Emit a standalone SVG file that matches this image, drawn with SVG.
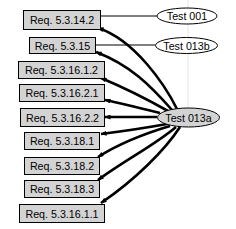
<svg xmlns="http://www.w3.org/2000/svg" width="236" height="229" viewBox="0 0 236 229">
<style>
.box{fill:#d3d3d3;stroke:#000;stroke-width:1}
.ell{stroke:#000;stroke-width:1}
.t{font-family:"Liberation Sans",Arial,sans-serif;font-size:10.7px;fill:#000;text-anchor:middle;dominant-baseline:central}
.thin{stroke:#000;stroke-width:1;fill:none}
.thick{stroke:#000;stroke-width:2.6;fill:none;marker-end:url(#ah)}
</style>
<defs>
<marker id="ah" markerUnits="userSpaceOnUse" markerWidth="6" markerHeight="5" refX="5.5" refY="2.5" orient="auto">
<path d="M0,0 L6,2.5 L0,5 z" fill="#000"/>
</marker>
</defs>
<g id="connectors">
<line x1="188" y1="0" x2="188" y2="108" stroke="#c8c8c8" stroke-width="0.5"/>
<path class="thin" d="M100,16 L157,16"/>
<path class="thin" d="M95,45 L155,45"/>
<path class="thick" d="M177,109 C165,85 135,40 98,28"/>
<path class="thick" d="M172,110 C150,85 130,65 96,52"/>
<path class="thick" d="M168,111 C145,98 125,88 101,78"/>
<path class="thick" d="M160,113 C140,108 120,103 105,100"/>
<path class="thick" d="M157,117 L105,117"/>
<path class="thick" d="M167,124 C145,128 125,131 101,134"/>
<path class="thick" d="M170,126 C150,132 120,143 98,157"/>
<path class="thick" d="M176,127 C155,145 125,160 98,180"/>
<path class="thick" d="M180,127 C165,150 135,180 101,203"/>
</g>
<g id="test001"><ellipse class="ell" cx="187" cy="16" rx="30" ry="8" fill="#fff"/><text class="t" x="187" y="16">Test 001</text></g>
<g id="test013b"><ellipse class="ell" cx="186.5" cy="45.5" rx="31" ry="8" fill="#fff"/><text class="t" x="186.5" y="45.5">Test 013b</text></g>
<g id="test013a"><ellipse class="ell" cx="188.5" cy="117.5" rx="31" ry="9.5" fill="#d3d3d3"/><text class="t" x="188.5" y="117.5">Test 013a</text></g>
<g id="r1"><rect class="box" x="23.5" y="10.5" width="77" height="19"/><text class="t" x="62" y="20">Req. 5.3.14.2</text></g>
<g id="r2"><rect class="box" x="29.5" y="37.5" width="66" height="16"/><text class="t" x="62.5" y="45.5">Req. 5.3.15</text></g>
<g id="r3"><rect class="box" x="18.5" y="61.5" width="86" height="17"/><text class="t" x="61.5" y="70">Req. 5.3.16.1.2</text></g>
<g id="r4"><rect class="box" x="19.5" y="84.5" width="85" height="17"/><text class="t" x="62" y="93">Req. 5.3.16.2.1</text></g>
<g id="r5"><rect class="box" x="20.5" y="108.5" width="84" height="18"/><text class="t" x="62.5" y="117.5">Req. 5.3.16.2.2</text></g>
<g id="r6"><rect class="box" x="24.5" y="132.5" width="75" height="17"/><text class="t" x="62" y="141">Req. 5.3.18.1</text></g>
<g id="r7"><rect class="box" x="24.5" y="157.5" width="75" height="17"/><text class="t" x="62" y="166">Req. 5.3.18.2</text></g>
<g id="r8"><rect class="box" x="24.5" y="180.5" width="75" height="17"/><text class="t" x="62" y="189">Req. 5.3.18.3</text></g>
<g id="r9"><rect class="box" x="19.5" y="204.5" width="85" height="18"/><text class="t" x="62" y="213.5">Req. 5.3.16.1.1</text></g>
</svg>
